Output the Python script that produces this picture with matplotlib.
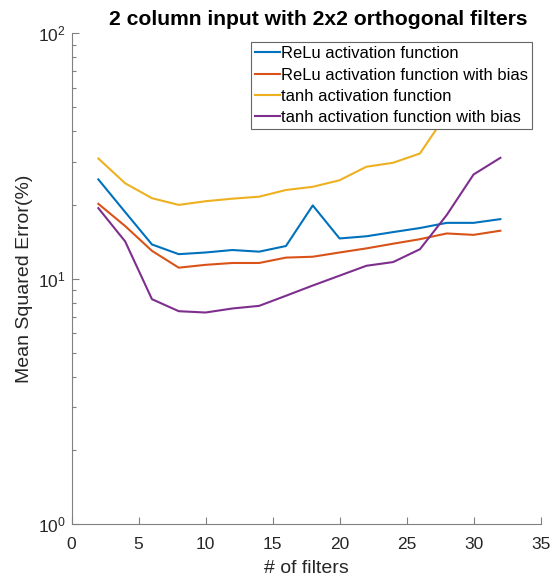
import matplotlib
matplotlib.use("Agg")
import matplotlib.pyplot as plt
from matplotlib.ticker import LogLocator, FixedLocator, NullFormatter

plt.rcParams['font.family'] = ['Liberation Sans', 'DejaVu Sans']
plt.rcParams['mathtext.fontset'] = 'custom'
plt.rcParams['mathtext.rm'] = 'Liberation Sans'

filters = [2, 4, 6, 8, 10, 12, 14, 16, 18, 20, 22, 24, 26, 28, 30, 32]
relu = [25.4, 18.7, 13.8, 12.6, 12.8, 13.1, 12.9, 13.6, 19.9, 14.6, 14.9, 15.5, 16.1, 16.9, 16.9, 17.5]
relu_bias = [20.2, 16.4, 13.0, 11.1, 11.4, 11.6, 11.6, 12.2, 12.3, 12.8, 13.3, 13.9, 14.5, 15.3, 15.1, 15.7]
tanh = [30.9, 24.5, 21.3, 20.0, 20.7, 21.2, 21.6, 23.0, 23.7, 25.2, 28.6, 29.7, 32.4, 47.0, 62.0, 80.0]
tanh_bias = [19.4, 14.2, 8.26, 7.38, 7.29, 7.57, 7.76, 8.53, 9.39, 10.3, 11.3, 11.7, 13.2, 18.2, 26.6, 31.1]

labels = ['ReLu activation function', 'ReLu activation function with bias',
          'tanh activation function', 'tanh activation function with bias']
colors = ['#0072BD', '#D95319', '#EDB120', '#7E2F8E']
xticks = [0, 5, 10, 15, 20, 25, 30, 35]

fig = plt.figure(figsize=(5.59, 5.82), dpi=100)
ax = fig.add_axes([0.128, 0.0991, 0.839, 0.8437])

for vals, lab, c in zip([relu, relu_bias, tanh, tanh_bias], labels, colors):
    ax.plot(filters, vals, color=c, lw=1.5, label=lab)

ax.set_yscale('log')
ax.set_xlim(0, 35)
ax.set_ylim(1, 100)
ax.xaxis.set_major_locator(FixedLocator(xticks))
ax.yaxis.set_major_locator(LogLocator(base=10, numticks=10))
ax.yaxis.set_minor_locator(LogLocator(base=10, subs=range(2, 10), numticks=20))
ax.yaxis.set_minor_formatter(NullFormatter())

gray = '#262626'
for s in ['top', 'right']:
    ax.spines[s].set_visible(False)
for s in ['left', 'bottom']:
    ax.spines[s].set_color('#808080')
    ax.spines[s].set_linewidth(0.8)
ax.tick_params(which='major', direction='in', length=5, width=0.8, color='#808080',
               labelcolor=gray, labelsize=12.5)
ax.tick_params(which='minor', direction='in', length=3, width=0.8, color='#808080')
ax.tick_params(axis='x', pad=9)
ax.tick_params(axis='y', pad=4)

ax.set_xlabel('# of filters', fontsize=14, color=gray, labelpad=6)
ax.set_ylabel('Mean Squared Error(%)', fontsize=14, color=gray, labelpad=4)
ax.set_title('2 column input with 2x2 orthogonal filters', fontsize=15.2,
             fontweight='bold', x=0.527, pad=6)

leg = ax.legend(loc='upper right', bbox_to_anchor=(0.9815, 0.982), fontsize=11.9,
                frameon=True, fancybox=False, edgecolor='#666666', framealpha=1,
                handlelength=1.5, handletextpad=0.05, borderpad=0.25,
                labelspacing=0.38, borderaxespad=0)
leg.get_frame().set_linewidth(0.8)

fig.savefig('out.png', dpi=100)
